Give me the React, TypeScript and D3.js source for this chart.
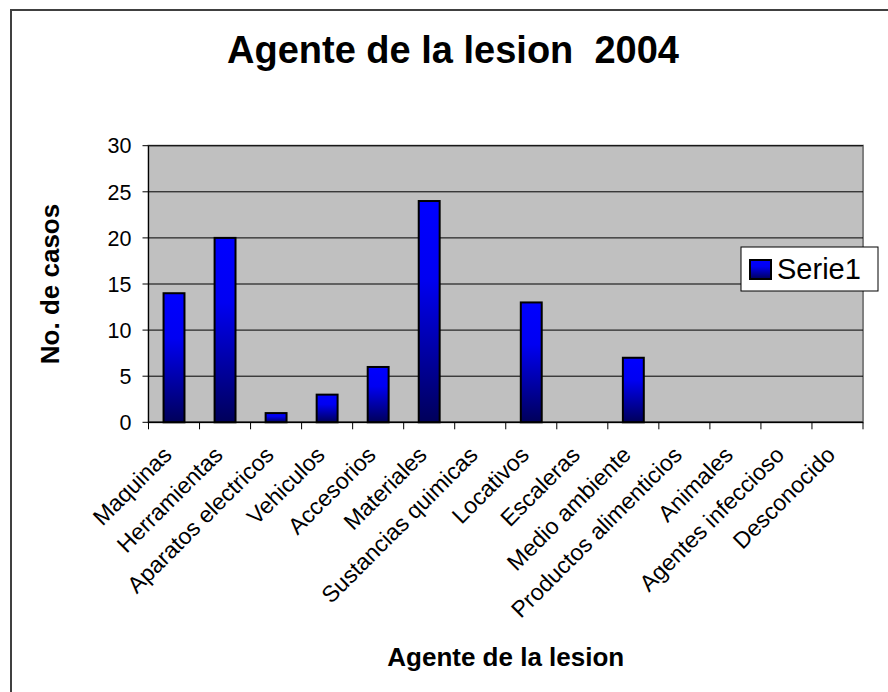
import React from "react";
import * as d3 from "d3";

const categories = [
  "Maquinas",
  "Herramientas",
  "Aparatos electricos",
  "Vehiculos",
  "Accesorios",
  "Materiales",
  "Sustancias quimicas",
  "Locativos",
  "Escaleras",
  "Medio ambiente",
  "Productos alimenticios",
  "Animales",
  "Agentes infeccioso",
  "Desconocido",
];
const serie1 = [14, 20, 1, 3, 6, 24, 0, 13, 0, 7, 0, 0, 0, 0];
const yTicks = [0, 5, 10, 15, 20, 25, 30];
const seriesName = "Serie1";
const title = "Agente de la lesion  2004";
const xTitle = "Agente de la lesion";
const yTitle = "No. de casos";

const W = 888;
const H = 692;
const FONT = "'Liberation Sans', Arial, Helvetica, sans-serif";

export default function App() {
  const left = 148.5;
  const right = 863;
  const top = 145.7;
  const bottom = 422.3;

  const x = d3
    .scaleBand<string>()
    .domain(categories)
    .range([left, right])
    .paddingInner(0.59)
    .paddingOuter(0.295);
  const y = d3.scaleLinear().domain([0, 30]).range([bottom, top]);
  const step = x.step();
  const boundaries = d3.range(categories.length + 1).map((i) => left + i * step);

  return (
    <svg
      width={W}
      height={H}
      style={{ position: "absolute", left: 0, top: 0, background: "#fff" }}
      fontFamily={FONT}
    >
      <defs>
        <linearGradient id="barGrad" x1="0" y1="0" x2="0" y2="1">
          <stop offset="0%" stopColor="#0000FF" />
          <stop offset="35%" stopColor="#0000F2" />
          <stop offset="100%" stopColor="#00005A" />
        </linearGradient>
      </defs>
      <rect x={0} y={0} width={W} height={H} fill="#fff" />
      {/* outer chart border */}
      <rect x={11} y={10} width={W + 20} height={H + 20} fill="none" stroke="#404040" strokeWidth={2} />

      {/* title */}
      <text
        x={453}
        y={63}
        textAnchor="middle"
        fontWeight="bold"
        fontSize={38}
        style={{ whiteSpace: "pre" }}
      >
        {title}
      </text>

      {/* plot area */}
      <rect x={left} y={top} width={right - left} height={bottom - top} fill="#C0C0C0" stroke="#808080" strokeWidth={2} />

      {/* gridlines */}
      {yTicks.slice(1).map((t) => (
        <line key={t} x1={left} x2={right} y1={y(t)} y2={y(t)} stroke="#000" strokeWidth={1} />
      ))}

      {/* bars */}
      {serie1.map((v, i) =>
        v > 0 ? (
          <rect
            key={i}
            x={x(categories[i])}
            y={y(v)}
            width={x.bandwidth()}
            height={y(0) - y(v)}
            fill="url(#barGrad)"
            stroke="#000"
            strokeWidth={2}
          />
        ) : null
      )}

      {/* y axis */}
      <line x1={left} x2={left} y1={top} y2={bottom} stroke="#000" strokeWidth={1} />
      {yTicks.map((t) => (
        <g key={t}>
          <line x1={left - 6} x2={left} y1={y(t)} y2={y(t)} stroke="#000" strokeWidth={1} />
          <text x={131.5} y={y(t)} dy="0.36em" textAnchor="end" fontSize={21.5}>
            {t}
          </text>
        </g>
      ))}

      {/* x axis */}
      <line x1={left} x2={right} y1={bottom} y2={bottom} stroke="#000" strokeWidth={1.5} />
      {boundaries.map((bx, i) => (
        <line key={i} x1={bx} x2={bx} y1={bottom} y2={bottom + 7} stroke="#000" strokeWidth={1} />
      ))}
      {categories.map((c) => {
        const cx = (x(c) as number) + x.bandwidth() / 2;
        return (
          <text
            key={c}
            transform={`translate(${cx - 1},${bottom + 34}) rotate(-45)`}
            textAnchor="end"
            fontSize={23}
          >
            {c}
          </text>
        );
      })}

      {/* axis titles */}
      <text
        transform={`translate(59,${(top + bottom) / 2}) rotate(-90)`}
        textAnchor="middle"
        fontWeight="bold"
        fontSize={26}
      >
        {yTitle}
      </text>
      <text x={(left + right) / 2} y={666} textAnchor="middle" fontWeight="bold" fontSize={26}>
        {xTitle}
      </text>

      {/* legend */}
      <rect x={741} y={247} width={137} height={44} fill="#fff" stroke="#000" strokeWidth={1} />
      <rect x={750} y={260} width={21} height={19} fill="url(#barGrad)" stroke="#000" strokeWidth={2} />
      <text x={777} y={279} fontSize={29}>
        {seriesName}
      </text>
    </svg>
  );
}
